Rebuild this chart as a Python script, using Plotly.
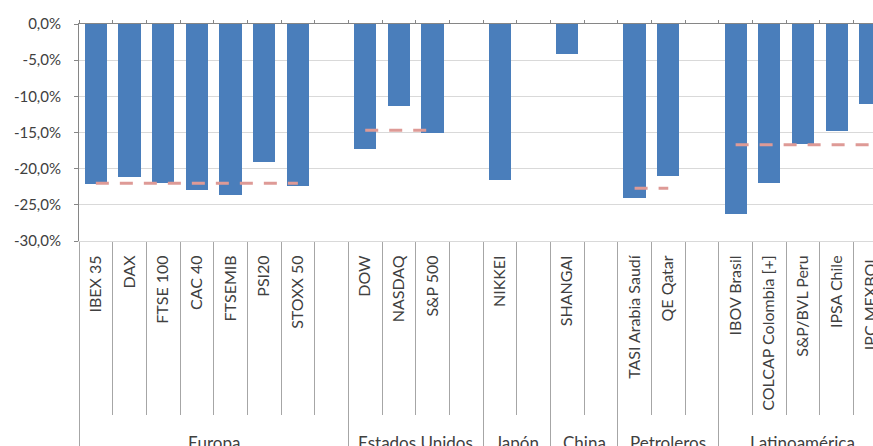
import plotly.graph_objects as go

# ---------------- data ----------------
groups = ["Europa", "Estados Unidos", "Japón", "China", "Petroleros", "Latinoamérica"]

europa_names = ["IBEX 35", "DAX", "FTSE 100", "CAC 40", "FTSEMIB", "PSI20", "STOXX 50"]
europa_vals = [-22.1, -21.2, -22.0, -22.9, -23.7, -19.1, -22.4]

usa_names = ["DOW", "NASDAQ", "S&P 500"]
usa_vals = [-17.3, -11.4, -15.0]

japon_names = ["NIKKEI"]
japon_vals = [-21.5]

china_names = ["SHANGAI"]
china_vals = [-4.1]

petro_names = ["TASI Arabia Saudí", "QE Qatar"]
petro_vals = [-24.1, -21.0]

latam_names = ["IBOV Brasil", "COLCAP Colombia [+]", "S&P/BVL Peru", "IPSA Chile", "IPC MEXBOL"]
latam_vals = [-26.3, -22.0, -16.6, -14.8, -11.1]

group_avg = [-22.0, -14.7, None, None, -22.7, -16.7]

y_ticks = [0, -5, -10, -15, -20, -25, -30]

# ---------------- build positions ----------------
series = [
    (europa_names, europa_vals),
    (usa_names, usa_vals),
    (japon_names, japon_vals),
    (china_names, china_vals),
    (petro_names, petro_vals),
    (latam_names, latam_vals),
]

bar_x, bar_y, bar_text = [], [], []
inner_bounds, group_bounds = [], [-0.5]
group_members = []
pos = 0
for gi, (names, vals) in enumerate(series):
    start = pos
    members = []
    for n, v in zip(names, vals):
        bar_x.append(pos)
        bar_y.append(v)
        bar_text.append(n)
        members.append(pos)
        pos += 1
    if gi < len(series) - 1:
        pos += 1  # blank slot after each group
    end = pos - 0.5
    group_members.append((start - 0.5, end, members))
    group_bounds.append(end)
    for k in range(start, pos - 1):
        inner_bounds.append(k + 0.5)

all_bounds = sorted(set(inner_bounds + group_bounds))
x_range = [-0.5, 23.08]

BLUE = "#4a7ebb"
PINK = "#de9a96"
TXT = "#404040"
FONT = "Lato, Liberation Sans, sans-serif"
CAT_SIZE = 16
GRP_SIZE = 17
Y_SIZE = 15

fig = go.Figure()
fig.add_trace(go.Bar(
    x=bar_x, y=bar_y, width=0.66,
    marker=dict(color=BLUE, line=dict(width=0)),
    showlegend=False, hoverinfo="skip",
))

for (g0, g1, members), avg in zip(group_members, group_avg):
    if avg is None:
        continue
    fig.add_trace(go.Scatter(
        x=[members[0], members[-1]], y=[avg, avg],
        mode="lines", line=dict(color=PINK, width=3, dash="13px,11px"),
        showlegend=False, hoverinfo="skip", cliponaxis=False,
    ))

# invisible carriers so that the overlay axes are drawn
for ax in ["x2", "x3", "x4"]:
    fig.add_trace(go.Scatter(
        x=bar_x, y=bar_y, xaxis=ax, yaxis="y", mode="markers",
        marker=dict(opacity=0, size=1), showlegend=False, hoverinfo="skip",
    ))

annotations = []
for name, (g0, g1, members) in zip(groups, group_members):
    annotations.append(dict(
        x=(g0 + g1) / 2, y=-0.870, xref="x", yref="paper",
        text=name, showarrow=False, yanchor="top", xanchor="center",
        font=dict(size=GRP_SIZE, color=TXT, family=FONT),
    ))

fig.update_layout(
    width=873, height=446,
    margin=dict(l=79, r=0, t=24, b=205, autoexpand=False),
    paper_bgcolor="white", plot_bgcolor="white",
    font=dict(family=FONT, color=TXT, size=CAT_SIZE),
    bargap=0,
    xaxis=dict(
        range=x_range, side="top", anchor="y", automargin=False,
        showline=True, linecolor="#868686", linewidth=1,
        ticks="outside", ticklen=3, tickcolor="#868686",
        tickvals=all_bounds, showticklabels=False,
        showgrid=False, zeroline=False,
    ),
    xaxis2=dict(
        range=x_range, overlaying="x", side="bottom", anchor="y", automargin=False,
        showline=True, linecolor="#d9d9d9", linewidth=1,
        ticks="outside", ticklen=173, tickcolor="#a6a6a6", tickwidth=1,
        tickvals=inner_bounds, showticklabels=False,
        showgrid=False, zeroline=False,
    ),
    xaxis3=dict(
        range=x_range, overlaying="x", side="bottom", anchor="y", automargin=False,
        showline=False,
        ticks="outside", ticklen=205, tickcolor="#a6a6a6", tickwidth=1,
        tickvals=group_bounds, showticklabels=False,
        showgrid=False, zeroline=False,
    ),
    xaxis4=dict(
        range=x_range, overlaying="x", side="bottom", anchor="y", automargin=False,
        showline=False,
        ticks="outside", ticklen=7, tickcolor="rgba(0,0,0,0)",
        tickvals=bar_x, ticktext=bar_text, tickangle=-90,
        ticklabeloverflow="allow",
        tickfont=dict(size=CAT_SIZE, color=TXT, family=FONT),
        showgrid=False, zeroline=False,
    ),
    yaxis=dict(
        range=[-30, 0], automargin=False,
        tickvals=y_ticks,
        ticktext=[f"{v:.1f}".replace(".", ",") + "%" for v in y_ticks],
        tickfont=dict(size=Y_SIZE, color=TXT, family=FONT),
        ticks="outside", ticklen=4, tickcolor="#868686",
        ticklabelstandoff=10,
        showline=True, linecolor="#868686", linewidth=1,
        showgrid=True, gridcolor="#d9d9d9", gridwidth=1,
        zeroline=False,
    ),
    annotations=annotations,
)

fig.write_html(
    "out.html",
    config={"displayModeBar": False},
    post_script="document.body.style.margin='0';document.body.style.padding='0';document.body.style.overflow='hidden';",
)
